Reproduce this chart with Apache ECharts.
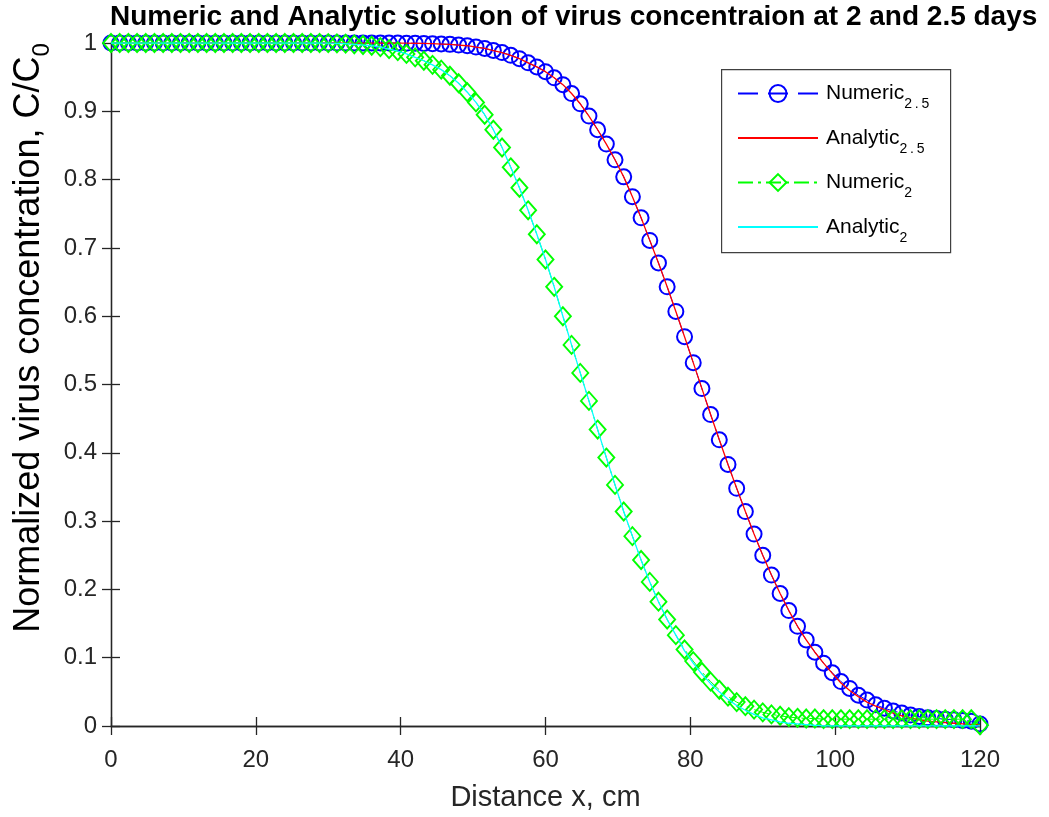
<!DOCTYPE html>
<html>
<head>
<meta charset="utf-8">
<script src="https://cdn.jsdelivr.net/npm/echarts@6/dist/echarts.min.js"></script>
<style>html,body{margin:0;padding:0;background:#fff}#c{width:1049px;height:817px}</style>
</head>
<body>
<div id="c"></div>
<script>
// Distance grid (cm)
var xs = [0,1.2,2.4,3.6,4.8,6,7.2,8.4,9.6,10.8,12,13.2,14.4,15.6,16.8,18,19.2,20.4,21.6,22.8,
24,25.2,26.4,27.6,28.8,30,31.2,32.4,33.6,34.8,36,37.2,38.4,39.6,40.8,42,43.2,44.4,45.6,46.8,
48,49.2,50.4,51.6,52.8,54,55.2,56.4,57.6,58.8,60,61.2,62.4,63.6,64.8,66,67.2,68.4,69.6,70.8,
72,73.2,74.4,75.6,76.8,78,79.2,80.4,81.6,82.8,84,85.2,86.4,87.6,88.8,90,91.2,92.4,93.6,94.8,
96,97.2,98.4,99.6,100.8,102,103.2,104.4,105.6,106.8,108,109.2,110.4,111.6,112.8,114,115.2,116.4,117.6,118.8,120];

// Numeric solution, t = 2.5 days
var numeric25 = [1,1,1,1,1,1,1,1,1,1,1,1,1,1,1,1,1,1,1,1,
1,1,1,1,1,1,1,1,1,1,1,1,1,1,0.9998,0.9996,0.9994,0.999,0.9985,0.998,
0.997,0.996,0.994,0.992,0.989,0.986,0.982,0.977,0.971,0.965,0.958,0.949,0.939,0.926,0.911,0.893,0.873,0.852,0.829,0.804,
0.775,0.744,0.711,0.678,0.643,0.607,0.570,0.532,0.494,0.456,0.419,0.383,0.348,0.314,0.281,0.250,0.221,0.194,0.169,0.146,
0.126,0.108,0.092,0.078,0.065,0.055,0.045,0.038,0.031,0.026,0.022,0.019,0.016,0.014,0.012,0.011,0.010,0.009,0.008,0.007,0.003];

// Analytic solution, t = 2.5 days
var analytic25 = [1,1,1,1,1,1,1,1,1,1,1,1,1,1,1,1,1,1,1,1,
1,1,1,1,1,1,1,1,1,1,1,1,1,1,0.9998,0.9996,0.9994,0.999,0.9985,0.998,
0.997,0.996,0.994,0.992,0.989,0.986,0.982,0.977,0.971,0.965,0.958,0.949,0.939,0.926,0.911,0.893,0.873,0.852,0.829,0.804,
0.775,0.744,0.711,0.678,0.643,0.607,0.570,0.532,0.494,0.456,0.419,0.383,0.348,0.314,0.281,0.250,0.221,0.194,0.169,0.146,
0.126,0.108,0.092,0.077,0.063,0.052,0.043,0.035,0.029,0.024,0.019,0.015,0.012,0.009,0.007,0.006,0.005,0.004,0.003,0.002,0.002];

// Numeric solution, t = 2 days
var numeric2 = [1,1,1,1,1,1,1,1,1,1,1,1,1,1,1,1,1,1,1,1,
1,1,1,1,1,0.9998,0.9995,0.999,0.998,0.997,0.996,0.994,0.991,0.988,0.984,0.979,0.974,0.968,0.961,0.952,
0.941,0.928,0.913,0.895,0.873,0.847,0.818,0.788,0.755,0.720,0.683,0.643,0.600,0.558,0.517,0.476,0.434,0.393,0.353,0.314,
0.278,0.243,0.211,0.182,0.156,0.133,0.112,0.095,0.079,0.065,0.053,0.043,0.035,0.029,0.024,0.020,0.017,0.015,0.013,0.012,
0.011,0.011,0.010,0.010,0.010,0.010,0.010,0.010,0.010,0.010,0.010,0.010,0.010,0.010,0.010,0.010,0.010,0.010,0.010,0.010,0.001];

// Analytic solution, t = 2 days
var analytic2 = [1,1,1,1,1,1,1,1,1,1,1,1,1,1,1,1,1,1,1,1,
1,1,1,1,1,0.9998,0.9995,0.999,0.998,0.997,0.996,0.994,0.991,0.988,0.984,0.979,0.974,0.968,0.961,0.952,
0.941,0.928,0.913,0.895,0.873,0.847,0.818,0.788,0.755,0.720,0.683,0.643,0.600,0.558,0.517,0.476,0.434,0.393,0.353,0.314,
0.278,0.243,0.211,0.182,0.156,0.133,0.110,0.092,0.076,0.062,0.050,0.039,0.030,0.023,0.017,0.012,0.009,0.006,0.004,0.003,
0.002,0.001,0,0,0,0,0,0,0,0,0,0,0,0,0,0,0,0,0,0,0];

var xTicks = [0, 20, 40, 60, 80, 100, 120];
var yTicks = [0, 0.1, 0.2, 0.3, 0.4, 0.5, 0.6, 0.7, 0.8, 0.9, 1];

var seriesNames = ['Numeric_2.5', 'Analytic_2.5', 'Numeric_2', 'Analytic_2'];
var legendText = {
  'Numeric_2.5': '{m|Numeric}{s|2\u2009.\u20095}',
  'Analytic_2.5': '{m|Analytic}{s|2\u2009.\u20095}',
  'Numeric_2': '{m|Numeric}{s|2}',
  'Analytic_2': '{m|Analytic}{s|2}'
};

function pairs(ys) { return xs.map(function (x, i) { return [x, ys[i]]; }); }

var FONT = '"Liberation Sans", Arial, Helvetica, sans-serif';
var AX = '#262626';
var CLEAR = 'rgba(255,255,255,0)';

var chart = echarts.init(document.getElementById('c'), null, {renderer: 'canvas'});

var axisCommon = {
  type: 'value',
  axisLine: {show: true, lineStyle: {color: AX, width: 1.3}},
  axisTick: {show: true, inside: true, length: 9, lineStyle: {color: AX, width: 1.3}},
  splitLine: {show: false}
};

chart.setOption({
  backgroundColor: '#fff',
  animation: false,
  title: {
    text: 'Numeric and Analytic solution of virus concentraion at 2 and 2.5 days',
    left: 110, top: 3, padding: 0,
    textStyle: {fontFamily: FONT, fontSize: 28, fontWeight: 'bold', color: '#000'}
  },
  grid: {left: 111, right: 69, top: 43, bottom: 90, containLabel: false},
  xAxis: [
    Object.assign({}, axisCommon, {
      min: xTicks[0], max: xTicks[xTicks.length - 1], interval: 20, position: 'bottom',
      axisLabel: {show: true, margin: 22, fontFamily: FONT, fontSize: 24, color: AX},
      name: 'Distance x, cm', nameLocation: 'middle', nameGap: 57,
      nameTextStyle: {fontFamily: FONT, fontSize: 29, color: AX}
    }),
    Object.assign({}, axisCommon, {
      min: xTicks[0], max: xTicks[xTicks.length - 1], interval: 20, position: 'top',
      axisLabel: {show: false}
    })
  ],
  yAxis: [
    Object.assign({}, axisCommon, {
      min: yTicks[0], max: yTicks[yTicks.length - 1], interval: 0.1, position: 'left',
      axisLabel: {show: true, margin: 14, fontFamily: FONT, fontSize: 24, color: AX,
        padding: [3, 0, 0, 0],
        formatter: function (v) { return String(Math.round(v * 10) / 10); }}
    }),
    Object.assign({}, axisCommon, {
      min: yTicks[0], max: yTicks[yTicks.length - 1], interval: 0.1, position: 'right',
      axisLabel: {show: false}
    })
  ],
  legend: {
    orient: 'vertical',
    left: 737, top: 83, padding: 0,
    itemWidth: 80, itemHeight: 21, itemGap: 16,
    data: [
      {name: seriesNames[0]},
      {name: seriesNames[1], itemStyle: {opacity: 0, borderWidth: 0}},
      {name: seriesNames[2]},
      {name: seriesNames[3], itemStyle: {opacity: 0, borderWidth: 0}}
    ],
    formatter: function (n) { return legendText[n]; },
    textStyle: {
      color: '#000',
      rich: {
        m: {fontFamily: FONT, fontSize: 21, lineHeight: 36, color: '#000', padding: [0, 0, 0, 3]},
        s: {fontFamily: FONT, fontSize: 14, lineHeight: 14, verticalAlign: 'bottom', color: '#000'}
      }
    }
  },
  graphic: [
    {type: 'rect', left: 721, top: 69, z: 0, silent: true,
      shape: {width: 229, height: 183},
      style: {fill: '#fff', stroke: '#404040', lineWidth: 1.2}},
    {type: 'text', x: 29, y: 338, rotation: Math.PI / 2, silent: true,
      style: {
        text: '{m|Normalized virus concentration, C/C}{s|0}',
        align: 'center', verticalAlign: 'middle',
        rich: {
          m: {fontFamily: FONT, fontSize: 36, lineHeight: 50, color: AX},
          s: {fontFamily: FONT, fontSize: 24, lineHeight: 24, verticalAlign: 'bottom', color: AX}
        }
      }}
  ],
  series: [
    {
      name: seriesNames[0], type: 'line', data: pairs(numeric25), clip: false,
      symbol: 'circle', symbolSize: 15, showAllSymbol: true,
      itemStyle: {color: CLEAR, borderColor: '#0000ff', borderWidth: 2},
      lineStyle: {color: '#0000ff', width: 1, type: [20, 10]},
      z: 3
    },
    {
      name: seriesNames[1], type: 'line', data: pairs(analytic25),
      symbol: 'none', lineStyle: {color: '#ff0000', width: 1.3}, itemStyle: {color: '#ff0000'},
      z: 4
    },
    {
      name: seriesNames[2], type: 'line', data: pairs(numeric2), clip: false,
      symbol: 'diamond', symbolSize: [16, 18], showAllSymbol: true,
      itemStyle: {color: CLEAR, borderColor: '#00ff00', borderWidth: 1.9},
      lineStyle: {color: '#00ff00', width: 1, type: [15, 5, 3, 5]},
      z: 5
    },
    {
      name: seriesNames[3], type: 'line', data: pairs(analytic2),
      symbol: 'none', lineStyle: {color: '#00ffff', width: 1.3}, itemStyle: {color: '#00ffff'},
      z: 6
    }
  ]
});
</script>
</body>
</html>
